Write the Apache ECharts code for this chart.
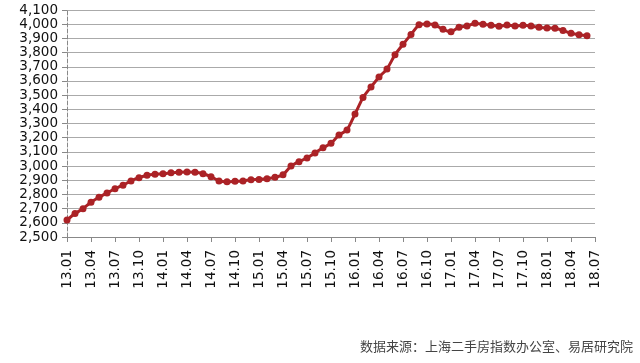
<!DOCTYPE html>
<html>
<head>
<meta charset="utf-8">
<script src="https://cdn.jsdelivr.net/npm/echarts@6/dist/echarts.min.js"></script>
<style>
html,body{margin:0;padding:0;background:#fff;}
#main{width:640px;height:363px;}
</style>
</head>
<body>
<div id="main"></div>
<script>
const months = [
'13.01','13.02','13.03','13.04','13.05','13.06','13.07','13.08','13.09','13.10','13.11','13.12',
'14.01','14.02','14.03','14.04','14.05','14.06','14.07','14.08','14.09','14.10','14.11','14.12',
'15.01','15.02','15.03','15.04','15.05','15.06','15.07','15.08','15.09','15.10','15.11','15.12',
'16.01','16.02','16.03','16.04','16.05','16.06','16.07','16.08','16.09','16.10','16.11','16.12',
'17.01','17.02','17.03','17.04','17.05','17.06','17.07','17.08','17.09','17.10','17.11','17.12',
'18.01','18.02','18.03','18.04','18.05','18.06','18.07'
];
const indexValues = [
2620,2665,2700,2745,2780,2810,2840,2865,2895,2918,2935,2942,
2945,2952,2957,2958,2957,2946,2925,2895,2890,2893,2895,2904,
2906,2911,2921,2939,3000,3031,3057,3092,3129,3160,3219,3254,
3367,3484,3557,3628,3684,3785,3858,3928,3996,4001,3994,3964,
3947,3978,3987,4006,3999,3992,3985,3994,3987,3992,3987,3978,
3973,3971,3956,3936,3926,3918,null
];
const yMin = 2500, yMax = 4100, yStep = 100;
const sourceNote = '数据来源：上海二手房指数办公室、易居研究院';

const chart = echarts.init(document.getElementById('main'), null, {renderer:'canvas'});
chart.setOption({
  animation:false,
  backgroundColor:'#fff',
  grid:{left:67,right:45,top:10,bottom:126,containLabel:false},
  xAxis:{
    type:'category',
    data:months,
    boundaryGap:false,
    axisLine:{show:true,lineStyle:{color:'#888',width:1}},
    axisTick:{show:true,interval:2,length:5,lineStyle:{color:'#888'}},
    axisLabel:{interval:2,rotate:90,margin:13,color:'#111',fontFamily:'DejaVu Sans',fontSize:13.5},
    splitLine:{show:false}
  },
  yAxis:{
    type:'value',
    min:yMin,max:yMax,interval:yStep,
    axisLine:{show:true,lineStyle:{color:'#888',width:1,type:'dashed'}},
    axisTick:{show:true,length:5,lineStyle:{color:'#888'}},
    axisLabel:{margin:9,color:'#111',fontFamily:'DejaVu Sans',fontSize:13.5,
      formatter:function(v){return v.toLocaleString('en-US');}},
    splitLine:{show:true,lineStyle:{color:'#aaa',width:1}}
  },
  series:[{
    type:'line',
    data:indexValues,
    smooth:0.15,
    symbol:'circle',
    symbolSize:7,
    showAllSymbol:true,
    lineStyle:{color:'#ab2226',width:3},
    itemStyle:{color:'#ab2226'}
  }],
  graphic:[{
    type:'text',
    right:7,
    top:340,
    style:{text:sourceNote,fill:'#444',font:'13px "Noto Sans CJK SC"'}
  }]
});
</script>
</body>
</html>
